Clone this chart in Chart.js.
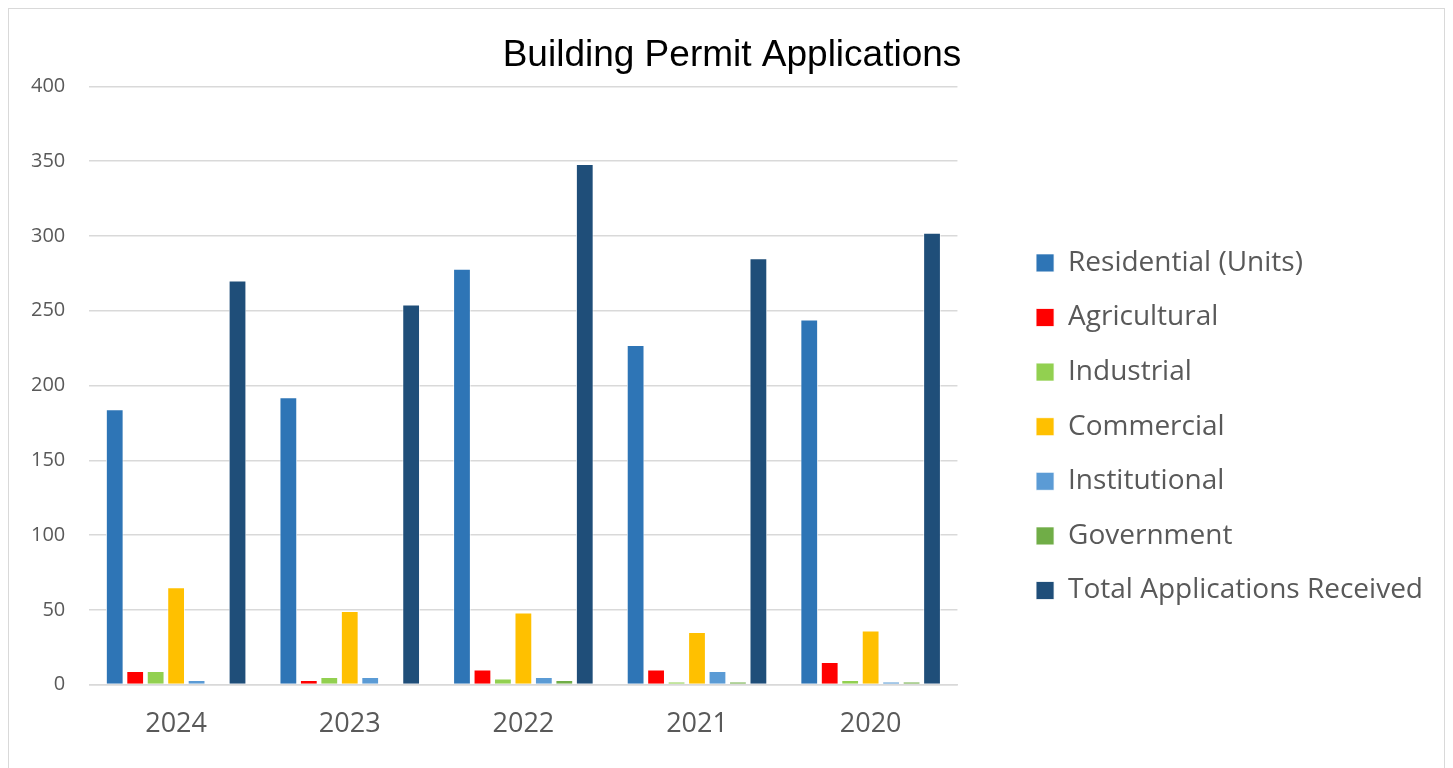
<!DOCTYPE html>
<html><head><meta charset="utf-8">
<script src="https://cdn.jsdelivr.net/npm/chart.js@4.4.1/dist/chart.umd.min.js"></script>
<style>
html,body{margin:0;padding:0;background:#fff;overflow:hidden;}
#frame{position:absolute;left:8px;top:8px;width:1437px;height:800px;border:1px solid #d9d9d9;box-sizing:border-box;}
#wrap{position:absolute;left:0;top:0;width:1453px;height:768px;}
</style></head>
<body>
<div id="frame"></div>
<div id="wrap"><canvas id="c" width="1453" height="768"></canvas></div>
<script>
const categories = ['2024','2023','2022','2021','2020'];
const residential = [184,192,278,227,244];
const agricultural = [9,3,10,10,15];
const industrial = [9,5,4,2,3];
const commercial = [65,49,48,35,36];
const institutional = [3,5,5,9,2];
const government = [0,0,3,2,2];
const totalReceived = [270,254,348,285,302];
const seriesNames = ['Residential (Units)','Agricultural','Industrial','Commercial','Institutional','Government','Total Applications Received'];
const seriesColors = ['#2e75b6','#ff0000','#92d050','#ffc000','#5b9bd5','#70ad47','#1f4e79'];
const seriesValues = [residential,agricultural,industrial,commercial,institutional,government,totalReceived];
const yTicks = [0,50,100,150,200,250,300,350,400];

const FONT = '"Open Sans", Lato, sans-serif';
Chart.defaults.font.family = FONT;

const titleShift = {
  id: 'titleShift',
  afterLayout(chart) {
    if (chart.titleBlock) { chart.titleBlock.left += 24; }
  }
};

new Chart(document.getElementById('c'), {
  type: 'bar',
  plugins: [titleShift],
  data: {
    labels: categories,
    datasets: seriesNames.map((n,i)=>({
      label: n,
      data: seriesValues[i],
      backgroundColor: seriesColors[i],
      borderColor: '#ffffff',
      borderWidth: 0.8,
      borderSkipped: 'bottom',
      categoryPercentage: 0.825,
      barPercentage: 0.85
    }))
  },
  options: {
    responsive: false,
    animation: false,
    devicePixelRatio: 1,
    layout: { padding: { left: 7, right: 20, top: 34, bottom: 11 } },
    plugins: {
      title: {
        display: true,
        text: 'Building Permit Applications',
        color: '#000000',
        font: { family: '"Liberation Sans", Arial, sans-serif', size: 37, weight: 'normal' },
        padding: { top: 0, bottom: 8 }
      },
      legend: {
        position: 'right',
        align: 'center',
        maxWidth: 700,
        title: { display: true, text: ' ', font: { size: 52 }, padding: 0 },
        labels: {
          boxWidth: 18, boxHeight: 18,
          color: '#595959',
          padding: 26.6,
          font: { family: FONT, size: 28 }
        }
      },
      tooltip: { enabled: false }
    },
    scales: {
      x: {
        grid: { display: false },
        border: { display: true, color: '#d9d9d9', width: 1.5 },
        ticks: { color: '#595959', font: { size: 27 }, padding: 16 }
      },
      y: {
        min: 0, max: 400,
        afterBuildTicks: s => { s.ticks = yTicks.map(v=>({value:v})); },
        grid: { color: '#d9d9d9', lineWidth: 1.5, drawTicks: false },
        border: { display: false },
        ticks: { color: '#595959', font: { size: 20 }, padding: 24 }
      },
      spacer: {
        position: 'right',
        display: true,
        grid: { display: false },
        border: { display: false },
        ticks: { display: false },
        afterFit: s => { s.width = 52; }
      }
    }
  }
});
</script>
</body></html>
